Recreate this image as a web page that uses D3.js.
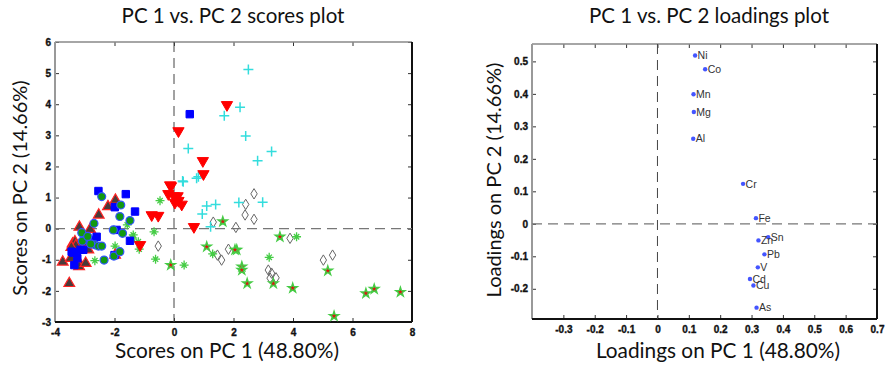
<!DOCTYPE html>
<html>
<head>
<meta charset="utf-8">
<script src="https://cdn.jsdelivr.net/npm/d3@7"></script>
<style>
  body { margin: 0; background: #fff; }
  .title, .axlabel { font-family: Lato, "Open Sans", sans-serif; fill: #111; }
  .ldlabel { font-family: "Liberation Sans", Arial, sans-serif; font-size: 10.5px; fill: #333; }
</style>
</head>
<body>
<svg width="885" height="367"></svg>
<script>
// ---- scores plot data (PC1, PC2) per sample group ----
var grpTriUp = [[-3.74,-1.07],[-3.52,-1.76],[-3.47,-0.95],[-3.41,-0.49],[-3.33,-0.42],[-3.22,-1.03],
  [-3.19,-1.22],[-3.18,0.05],[-2.97,-1.11],[-2.88,-0.68],[-2.82,-0.02],[-2.53,0.44],[-2.22,0.71],
  [-1.97,0.92],[-1.98,-0.85],[-3.10,-0.45],[-3.30,-0.55],[-3.45,-0.60]];
var grpSquare = [[-2.54,1.21],[-1.62,1.11],[-1.99,0.69],[-1.31,0.55],[-2.60,-0.26],[-2.82,-0.36],
  [-1.48,-0.39],[-3.14,-0.68],[-3.38,-0.77],[-3.35,-1.17],[-1.93,-0.04],[-3.05,-0.68],[-3.44,-0.74],
  [-2.00,-0.85],[0.53,3.68],[-2.70,-0.45],[-3.25,-0.95]];
var grpCircle = [[-2.43,1.03],[-1.79,0.76],[-1.82,0.39],[-1.48,0.26],[-2.69,0.17],[-3.10,-0.13],
  [-3.08,-0.40],[-2.04,-0.04],[-1.73,-0.15],[-2.66,-0.52],[-2.54,-0.56],[-2.43,-0.56],[-2.35,-1.01],
  [-2.02,-0.88],[-1.82,-0.74],[-2.80,-0.49],[-2.90,-0.25]];
var grpAsterisk = [[-0.47,0.90],[-0.67,-0.10],[-1.37,-0.20],[-1.20,-0.42],[-1.17,-0.66],[-1.57,0.12],
  [-0.62,-0.98],[-1.98,-0.56],[-2.66,-1.03],[0.34,-1.17],[1.30,-0.81],[3.20,-0.92],[4.12,-0.26],
  [-1.40,-0.30]];
var grpTriDown = [[-0.13,1.40],[0.15,3.14],[0.97,2.18],[0.99,1.76],[1.78,3.98],[-0.10,1.37],
  [-0.19,1.12],[0.12,1.05],[0.03,0.84],[0.26,0.78],[-0.75,0.44],[-0.53,0.42],[0.67,0.06],
  [-1.14,-0.52],[0.15,0.90],[0.00,1.05]];
var grpCross = [[0.48,2.58],[0.29,1.53],[0.82,1.67],[1.69,3.63],[2.22,3.90],[2.50,5.12],[2.41,2.98],
  [3.28,2.48],[2.81,2.18],[0.31,1.51],[0.76,1.62],[1.10,0.73],[1.40,0.78],[0.95,0.47],[1.23,0.06],
  [2.18,0.84],[2.98,0.85]];
var grpDiamond = [[-0.53,-0.56],[1.32,0.21],[1.46,-0.85],[1.60,-1.01],[1.83,-0.66],[2.08,0.04],
  [2.69,1.12],[2.41,0.78],[2.39,0.44],[2.69,0.30],[3.90,-0.31],[5.33,-0.85],[5.02,-1.01],
  [3.17,-1.33],[3.28,-1.43],[3.23,-1.59],[3.43,-1.58]];
var grpStar = [[-0.11,-1.17],[1.64,0.23],[1.10,-0.58],[2.11,-0.68],[3.56,-0.26],[2.05,-0.68],
  [2.28,-1.22],[2.28,-1.33],[2.46,-1.76],[3.34,-1.76],[3.99,-1.91],[5.17,-1.35],[5.38,-2.81],
  [6.45,-2.08],[6.73,-1.94],[7.61,-2.04]];

var scoreXTicks = [-4, -2, 0, 2, 4, 6, 8];
var scoreYTicks = [-3, -2, -1, 0, 1, 2, 3, 4, 5, 6];

// ---- loadings plot data ----
var loadNames = ["Ni", "Co", "Mn", "Mg", "Al", "Cr", "Fe", "Sn", "Zn", "Pb", "V", "Cd", "Cu", "As"];
var loadPC1 = [0.120, 0.152, 0.115, 0.116, 0.114, 0.273, 0.314, 0.353, 0.322, 0.341, 0.320, 0.295, 0.306, 0.316];
var loadPC2 = [0.518, 0.476, 0.399, 0.344, 0.262, 0.123, 0.0175, -0.041, -0.051, -0.094, -0.134, -0.170, -0.190, -0.258];

var loadXTicks = [-0.4, -0.3, -0.2, -0.1, 0, 0.1, 0.2, 0.3, 0.4, 0.5, 0.6, 0.7];
var loadYTicks = [-0.2, -0.1, 0, 0.1, 0.2, 0.3, 0.4, 0.5];

var svg = d3.select("svg");

// plain hyphen minus like the original, no U+2212
function intFmt(d) { return String(d); }
function decFmt(d) { return d == 0 ? "0" : d.toFixed(1); }

function styleAxis(a) {
  a.select(".domain").remove();
  a.selectAll("line").attr("stroke", "#333");
  a.selectAll("text")
    .attr("font-family", "'Liberation Sans', Arial, sans-serif")
    .attr("font-weight", "bold")
    .attr("font-size", 10)
    .attr("fill", "#111")
    .attr("stroke", "#111")
    .attr("stroke-width", 0.35);
}

function frame(g, x, y, xTicks, yTicks, xFmt, yFmt, showFirstX) {
  var w = x.range()[1], h = y.range()[0];
  g.append("g")
    .attr("transform", "translate(0," + h + ")")
    .call(d3.axisBottom(x).tickValues(xTicks).tickSizeInner(-4).tickSizeOuter(0).tickPadding(7)
      .tickFormat(function (d, i) { return (!showFirstX && i == 0) ? "" : xFmt(d); }))
    .call(styleAxis);
  g.append("g")
    .call(d3.axisTop(x).tickValues(xTicks).tickSizeInner(-4).tickSizeOuter(0).tickFormat(""))
    .call(styleAxis);
  g.append("g")
    .call(d3.axisLeft(y).tickValues(yTicks).tickSizeInner(-4).tickSizeOuter(0).tickPadding(4).tickFormat(yFmt))
    .call(styleAxis);
  g.append("g")
    .attr("transform", "translate(" + w + ",0)")
    .call(d3.axisRight(y).tickValues(yTicks).tickSizeInner(-4).tickSizeOuter(0).tickFormat(""))
    .call(styleAxis);
  // box: grey top/left, black right/bottom
  g.append("line").attr("x1", 0).attr("x2", w).attr("y1", 0).attr("y2", 0).attr("stroke", "#888").attr("stroke-width", 1.5);
  g.append("line").attr("x1", 0).attr("x2", 0).attr("y1", 0).attr("y2", h).attr("stroke", "#999").attr("stroke-width", 2);
  g.append("line").attr("x1", w).attr("x2", w).attr("y1", 0).attr("y2", h).attr("stroke", "#111").attr("stroke-width", 2);
  g.append("line").attr("x1", 0).attr("x2", w).attr("y1", h).attr("y2", h).attr("stroke", "#111").attr("stroke-width", 2);
  // zero lines
  g.append("line").attr("x1", x(0)).attr("x2", x(0)).attr("y1", 0).attr("y2", h)
    .attr("stroke", "#444").attr("stroke-dasharray", "10,6");
  g.append("line").attr("x1", 0).attr("x2", w).attr("y1", y(0)).attr("y2", y(0))
    .attr("stroke", "#777").attr("stroke-dasharray", "10,6").attr("stroke-width", 1.2);
}

// ================= scores plot =================
var m1 = { left: 55, top: 42 }, w1 = 357, h1 = 280;
var g1 = svg.append("g").attr("transform", "translate(" + m1.left + "," + m1.top + ")");
var x1 = d3.scaleLinear().domain([-4, 8]).range([0, w1]);
var y1 = d3.scaleLinear().domain([-3, 6]).range([h1, 0]);
frame(g1, x1, y1, scoreXTicks, scoreYTicks, intFmt, intFmt, true);

var pts = g1.append("g");
function sym(data, type, size, fill, stroke, sw, rot) {
  pts.append("g").selectAll("path")
    .data(data)
    .enter().append("path")
    .attr("d", d3.symbol().type(type).size(size))
    .attr("transform", function (d) { return "translate(" + x1(d[0]) + "," + y1(d[1]) + ")" + (rot ? " rotate(" + rot + ")" : ""); })
    .attr("fill", fill)
    .attr("stroke", stroke)
    .attr("stroke-width", sw);
}
var asterisk = { draw: function (c, s) { var r = Math.sqrt(s) / 2, q = r * 0.6;
  c.moveTo(-r, 0); c.lineTo(r, 0); c.moveTo(0, -r); c.lineTo(0, r);
  c.moveTo(-q, -q); c.lineTo(q, q); c.moveTo(-q, q); c.lineTo(q, -q); } };
var plus = { draw: function (c, s) { var r = Math.sqrt(s) / 2;
  c.moveTo(-r, 0); c.lineTo(r, 0); c.moveTo(0, -r); c.lineTo(0, r); } };
var diamond = { draw: function (c, s) { var r = Math.sqrt(s) / 2;
  c.moveTo(0, -r * 1.3); c.lineTo(r * 0.8, 0); c.lineTo(0, r * 1.3); c.lineTo(-r * 0.8, 0); c.closePath(); } };

sym(grpDiamond, diamond, 64, "none", "#666", 1);
sym(grpCross, plus, 100, "none", "#33dddd", 1.5);
sym(grpAsterisk, asterisk, 80, "none", "#44cc44", 1.3);
sym(grpStar, d3.symbolStar, 26, "#dd1111", "#44cc44", 1.4);
sym(grpTriDown, d3.symbolTriangle, 55, "#ff0000", "#ff0000", 1, 180);
sym(grpTriUp, d3.symbolTriangle, 50, "#4a3a3a", "#ff2222", 1.2);
sym(grpSquare, d3.symbolSquare, 55, "#0000ff", "#0000ff", 1);
sym(grpCircle, d3.symbolCircle, 50, "#119911", "#3355ff", 1.2);

svg.append("text").attr("class", "title").attr("x", 233).attr("y", 23)
  .attr("text-anchor", "middle").attr("font-size", 20.5).text("PC 1 vs. PC 2 scores plot");
svg.append("text").attr("class", "axlabel").attr("x", 227).attr("y", 358)
  .attr("text-anchor", "middle").attr("font-size", 20.8).text("Scores on PC 1 (48.80%)");
svg.append("text").attr("class", "axlabel").attr("transform", "translate(27,188) rotate(-90)")
  .attr("text-anchor", "middle").attr("font-size", 20).text("Scores on PC 2 (14.66%)");

// ================= loadings plot =================
var m2 = { left: 532, top: 44 }, w2 = 345, h2 = 275;
var g2 = svg.append("g").attr("transform", "translate(" + m2.left + "," + m2.top + ")");
var x2 = d3.scaleLinear().domain([-0.4, 0.7]).range([0, w2]);
var y2 = d3.scaleLinear().domain([-0.293, 0.5535]).range([h2, 0]);
frame(g2, x2, y2, loadXTicks, loadYTicks, decFmt, decFmt, false);

var ld = g2.append("g").selectAll("g")
  .data(loadNames)
  .enter().append("g")
  .attr("transform", function (d, i) { return "translate(" + x2(loadPC1[i]) + "," + y2(loadPC2[i]) + ")"; });
ld.append("circle").attr("r", 2.2).attr("fill", "#4455ff");
ld.append("text").attr("class", "ldlabel").attr("x", 2.5).attr("dy", "0.35em").text(function (d) { return d; });

svg.append("text").attr("class", "title").attr("x", 709).attr("y", 23)
  .attr("text-anchor", "middle").attr("font-size", 20.5).text("PC 1 vs. PC 2 loadings plot");
svg.append("text").attr("class", "axlabel").attr("x", 718).attr("y", 358)
  .attr("text-anchor", "middle").attr("font-size", 20.8).text("Loadings on PC 1 (48.80%)");
svg.append("text").attr("class", "axlabel").attr("transform", "translate(501,180) rotate(-90)")
  .attr("text-anchor", "middle").attr("font-size", 20).text("Loadings on PC 2 (14.66%)");
</script>
</body>
</html>
